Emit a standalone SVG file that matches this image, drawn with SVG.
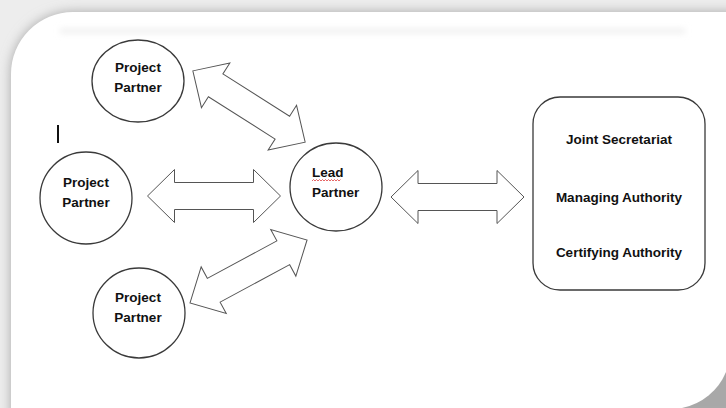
<svg xmlns="http://www.w3.org/2000/svg" width="726" height="408" viewBox="0 0 726 408">
  <defs>
    <filter id="blur" x="-10%" y="-10%" width="120%" height="120%">
      <feGaussianBlur stdDeviation="6"/>
    </filter>
    <filter id="soft" x="-5%" y="-200%" width="110%" height="500%">
      <feGaussianBlur stdDeviation="3"/>
    </filter>
    <path id="dblArrow" d="M -66.5 0 L -39.5 -26.5 L -39.5 -13.5 L 39.5 -13.5 L 39.5 -26.5 L 66.5 0 L 39.5 26.5 L 39.5 13.5 L -39.5 13.5 L -39.5 26.5 Z"/>
  </defs>
  <style>
    .node { fill: #ffffff; stroke: #3a3a3a; stroke-width: 1.3; }
    .arrow { fill: #ffffff; stroke: #555555; stroke-width: 1; stroke-linejoin: miter; }
    .lbl { font-family: "Liberation Sans", Arial, sans-serif; font-weight: bold; font-size: 13.5px; fill: #111111; }
    .mid { text-anchor: middle; }
  </style>

  <!-- page background and card -->
  <rect x="0" y="0" width="726" height="408" fill="#ededed"/>
  <path d="M 11 74 A 62 62 0 0 1 73 12 L 740 12 L 740 420 L 11 420 Z" fill="#a8a8a8" filter="url(#blur)"/>
  <path d="M 11 74 A 62 62 0 0 1 73 12 L 726 12 L 726 372 A 60 60 0 0 1 682 408 L 11 408 Z" fill="#ffffff"/>
  <rect x="60" y="29" width="625" height="4" fill="#ebebeb" filter="url(#soft)"/>

  <!-- text cursor mark -->
  <line x1="58" y1="125" x2="58" y2="143" stroke="#111" stroke-width="2"/>

  <g id="connectors">
    <use href="#dblArrow" class="arrow" transform="translate(249 106.5) rotate(32.4)"/>
    <use href="#dblArrow" class="arrow" transform="translate(214 196)"/>
    <use href="#dblArrow" class="arrow" transform="translate(248.5 271.5) rotate(-28.3)"/>
    <use href="#dblArrow" class="arrow" transform="translate(457.5 197)"/>
  </g>

  <g id="pp-top">
    <ellipse class="node" cx="138" cy="81" rx="46" ry="41"/>
    <text class="lbl mid" x="138" y="72">Project</text>
    <text class="lbl mid" x="138" y="92">Partner</text>
  </g>

  <g id="pp-mid">
    <ellipse class="node" cx="86" cy="198" rx="46" ry="46"/>
    <text class="lbl mid" x="86" y="187">Project</text>
    <text class="lbl mid" x="86" y="207">Partner</text>
  </g>

  <g id="pp-bottom">
    <ellipse class="node" cx="139" cy="313" rx="46" ry="45"/>
    <text class="lbl mid" x="138" y="302">Project</text>
    <text class="lbl mid" x="138" y="322">Partner</text>
  </g>

  <g id="lead-partner">
    <ellipse class="node" cx="336" cy="187" rx="46" ry="44"/>
    <text class="lbl" x="312" y="177">Lead</text>
    <path d="M 312 181 l 1.5 -1.5 l 1.5 1.5 l 1.5 -1.5 l 1.5 1.5 l 1.5 -1.5 l 1.5 1.5 l 1.5 -1.5 l 1.5 1.5 l 1.5 -1.5 l 1.5 1.5 l 1.5 -1.5 l 1.5 1.5 l 1.5 -1.5 l 1.5 1.5 l 1.5 -1.5 l 1.5 1.5 l 1.5 -1.5 l 1.5 1.5 l 1.5 -1.5" fill="none" stroke="#e04040" stroke-width="0.8"/>
    <text class="lbl" x="312" y="197">Partner</text>
  </g>

  <g id="authorities">
    <rect class="node" x="533" y="97" width="172" height="193" rx="27" ry="27"/>
    <text class="lbl mid" x="619" y="144">Joint Secretariat</text>
    <text class="lbl mid" x="619" y="202">Managing Authority</text>
    <text class="lbl mid" x="619" y="257">Certifying Authority</text>
  </g>
</svg>
